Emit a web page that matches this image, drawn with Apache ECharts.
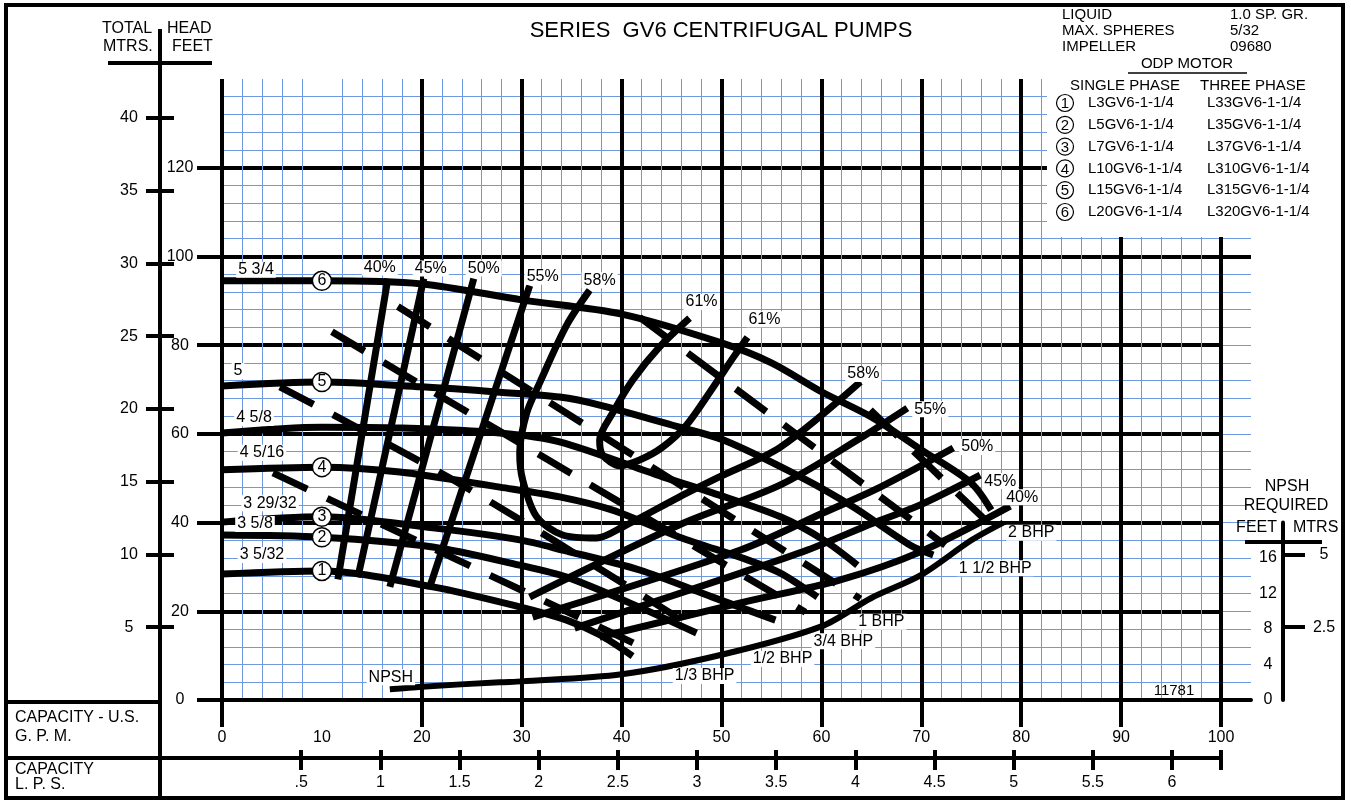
<!DOCTYPE html>
<html>
<head>
<meta charset="utf-8">
<title>Series GV6 Centrifugal Pumps</title>
<script src="https://cdn.jsdelivr.net/npm/echarts@6/dist/echarts.min.js"></script>
<style>
html, body { margin: 0; padding: 0; background: #fff; }
#chart { width: 1351px; height: 800px; }
</style>
</head>
<body>
<div id="chart"></div>
<script>
var chart = echarts.init(document.getElementById('chart'));

// head-capacity curves, [GPM, feet]
var head_1 = [[0, 28.4], [10, 29.1], [21.1, 25.5], [29.8, 21.0], [34.5, 18.0], [37.8, 14.7], [41.1, 9.9]];
var head_2 = [[0, 37.2], [10, 36.7], [21.1, 34.5], [29.8, 30.4], [34.5, 27.7], [40.8, 21.9], [47.5, 15.1]];
var head_3 = [[0, 40.1], [10, 41.3], [21.1, 38.8], [29.8, 36.1], [34.1, 33.8], [41.8, 29.3], [49.1, 23.2], [55.4, 18.0]];
var head_4 = [[0, 51.9], [10, 52.5], [17.8, 51.4], [27.8, 48.0], [33.8, 45.8], [39.1, 42.8], [45.8, 36.7], [52.6, 31.6], [55.9, 28.6], [59.6, 23.2]];
var head_45 = [[0, 60.2], [10, 61.5], [18, 61.3], [27.8, 60.2], [33.8, 58.2], [44.1, 50.3], [49.1, 46.7], [55.9, 41.3], [60.2, 36.1], [63.6, 30.4]];
var head_5 = [[0, 70.8], [10, 71.7], [20, 70.6], [27.8, 69.4], [33.8, 68.3], [37.8, 66.5], [45.8, 61.5], [50.2, 58.6], [57.9, 50.3], [63.2, 43.5], [68.9, 34.9], [71.2, 32.7]];
var head_6 = [[0, 94.5], [10, 94.5], [20, 93.8], [30, 90.2], [40, 87.0], [50, 80.5], [55, 76.0], [60, 69.5], [65, 63.8], [70, 56.4], [75, 48.9], [77, 42.8]];
var head_names = ['3 5/32', '3 5/8', '3 29/32', '4 5/16', '4 5/8', '5', '5 3/4'];
var head_numbers = ['1', '2', '3', '4', '', '5', '6'];

// efficiency lines, [GPM, feet]
var eff_40_left = [[16.6, 95.0], [11.6, 27.2]];
var eff_45_left = [[20.2, 95.0], [13.6, 27.7]];
var eff_50_left = [[25.2, 95.0], [16.8, 25.5]];
var eff_55_left = [[30.8, 93.4], [20.8, 25.5]];
var eff_58 = [[36.8, 92.4], [34.5, 84.5], [31.8, 71.5], [30.5, 64.7], [29.8, 55.7], [30.1, 49.6], [31.5, 41.3], [34.1, 37.2], [37.5, 36.5], [40.1, 39.0], [45.8, 45.8], [49.8, 50.3], [55.9, 57.0], [63.9, 71.7]];
var eff_61 = [[46.8, 86.1], [43.8, 79.6], [41.1, 72.1], [39.1, 64.7], [37.8, 58.6], [38.1, 55.2], [39.8, 52.8], [41.8, 54.1], [44.1, 57.0], [46.5, 62.0], [49.1, 70.3], [51.2, 77.3], [52.6, 81.8]];
var eff_55_right = [[30.8, 23.2], [45.8, 39.5], [55.9, 48.5], [63.6, 58.6], [68.6, 65.8]];
var eff_50_right = [[31.1, 18.7], [51.9, 33.8], [60.2, 42.2], [65.9, 48.0], [73.2, 56.8]];
var eff_45_right = [[35.3, 16.2], [51.9, 28.6], [58.6, 33.8], [65.2, 39.9], [69.9, 44.0], [75.9, 50.7]];
var eff_40_right = [[37.8, 14.2], [51.9, 21.9], [61.9, 27.1], [69.9, 33.4], [78.9, 43.7]];

// brake horsepower lines, [GPM, feet]
var bhp_third = [[5.1, 51.2], [41.8, 12.2]];
var bhp_half = [[5.8, 70.6], [24.0, 48.5], [46.8, 16.9]];
var bhp_3q = [[11.0, 83.0], [58.4, 19.8]];
var bhp_1 = [[17.6, 88.7], [63.9, 22.8]];
var bhp_1half = [[41.8, 86.3], [72.4, 34.9]];
var bhp_2 = [[64.9, 65.4], [76.9, 39.5]];
var bhp_names = ['1/3 BHP', '1/2 BHP', '3/4 BHP', '1 BHP', '1 1/2 BHP', '2 BHP'];

// NPSH required, [GPM, feet of NPSH]
var npsh = [[16.8, 1.2], [20, 1.5], [27.8, 2.0], [30, 2.1], [40, 2.9], [50, 5.1], [60, 8.3], [65, 11.5], [70, 14.1], [75, 18.0], [78.2, 20.0]];

// tick values
var gpm_ticks = [0, 20, 30, 40, 50, 60, 70, 80, 90, 100];
var feet_ticks = [0, 20, 40, 60, 80, 100, 120];
var mtrs_ticks = [5, 10, 15, 20, 25, 30, 35, 40];
var lps_ticks = [0.5, 1, 1.5, 2, 2.5, 3, 3.5, 4, 4.5, 5, 5.5, 6];
var npsh_feet_ticks = [0, 4, 8, 12, 16];
var npsh_mtrs_ticks = [2.5, 5];

// title block texts
var info_keys = ['LIQUID', 'MAX. SPHERES', 'IMPELLER'];
var info_vals = ['1.0 SP. GR.', '5/32', '09680'];
var single_phase = ['L3GV6-1-1/4', 'L5GV6-1-1/4', 'L7GV6-1-1/4', 'L10GV6-1-1/4', 'L15GV6-1-1/4', 'L20GV6-1-1/4'];
var three_phase = ['L33GV6-1-1/4', 'L35GV6-1-1/4', 'L37GV6-1-1/4', 'L310GV6-1-1/4', 'L315GV6-1-1/4', 'L320GV6-1-1/4'];

var HEAD_MAX = 140;
var FT_TO_M = 0.3048;
var GPM_PER_LPS = 15.85;
var FONT = '"Liberation Sans", Arial, sans-serif';
var BLUE = '#6e98e0';

function lbl(text, off, size) {
    return {
        show: true, position: 'inside', formatter: text, offset: off,
        color: '#000', fontSize: size || 16, fontFamily: FONT,
        backgroundColor: '#fff', padding: [0, 2]
    };
}
function tag(label) {
    return { symbol: 'circle', symbolSize: 1, itemStyle: { color: 'rgba(0,0,0,0)' }, label: label };
}
function ring(num) {
    return {
        symbol: 'circle', symbolSize: 19,
        itemStyle: { color: '#fff', borderColor: '#000', borderWidth: 1.5 },
        label: { show: true, position: 'inside', formatter: num, color: '#000', fontSize: 16, fontFamily: FONT }
    };
}
// attach per-point styles (labels, circles) to a point list
function dressed(points, tags) {
    return points.map(function (p, i) {
        var t = tags[i];
        if (i === points.length - 1 && tags.last) t = tags.last;
        return t ? Object.assign({ value: p }, t) : p;
    });
}
function curve(points, tags, style, z) {
    return {
        type: 'line', xAxisIndex: 0, yAxisIndex: 0,
        data: dressed(points, tags), smooth: 0.3,
        showSymbol: true, symbol: 'none',
        lineStyle: Object.assign({ color: '#000', width: 7 }, style || {}),
        z: z || 3, silent: true
    };
}

var series = [];

// efficiency
series.push(curve(eff_40_left, { 0: tag(lbl('40%', [-8, -11])) }));
series.push(curve(eff_45_left, { 0: tag(lbl('45%', [7, -10])) }));
series.push(curve(eff_50_left, { 0: tag(lbl('50%', [10, -10])) }));
series.push(curve(eff_55_left, { 0: tag(lbl('55%', [13, -9])) }));
series.push(curve(eff_58, { 0: tag(lbl('58%', [10, -10])), last: tag(lbl('58%', [3, -8])) }));
series.push(curve(eff_61, { 0: tag(lbl('61%', [12, -16])), last: tag(lbl('61%', [17, -18])) }));
series.push(curve(eff_55_right, { last: tag(lbl('55%', [23, 1])) }));
series.push(curve(eff_50_right, { last: tag(lbl('50%', [24, -1])) }));
series.push(curve(eff_45_right, { last: tag(lbl('45%', [20, 6])) }));
series.push(curve(eff_40_right, { last: tag(lbl('40%', [12, -9])) }));

// BHP, dashed
var bhp_lines = [bhp_third, bhp_half, bhp_3q, bhp_1, bhp_1half, bhp_2];
var bhp_offsets = [[65, 30], [93, 34], [38, 29], [21, 23], [50, 23], [41, 8]];
bhp_lines.forEach(function (pts, k) {
    series.push(curve(pts, { last: tag(lbl(bhp_names[k], bhp_offsets[k])) }, { type: [38, 22] }));
});

// NPSH (own scale: 2x the head scale)
var npsh_series = curve(npsh, { 0: tag(lbl('NPSH', [1, -12])) }, { width: 6 });
npsh_series.yAxisIndex = 3;
series.push(npsh_series);

// head curves
var head_curves = [head_1, head_2, head_3, head_4, head_45, head_5, head_6];
var head_offsets = [[40, -19], [33, -11], [48, -19], [40, -17], [32, -15], [16, -15], [34, -11]];
head_curves.forEach(function (pts, k) {
    var tags = { 0: tag(lbl(head_names[k], head_offsets[k], 16)) };
    if (head_numbers[k]) {
        var i10 = pts.findIndex(function (p) { return p[0] === 10; });
        tags[i10] = ring(head_numbers[k]);
    }
    series.push(curve(pts, tags, null, 5));
});

// 100 ft line continues past 100 GPM
series.push({
    type: 'line', xAxisIndex: 2, yAxisIndex: 4, data: [], silent: true,
    markLine: {
        silent: true, symbol: ['none', 'none'], label: { show: false },
        lineStyle: { color: '#000', width: 4, type: 'solid' },
        data: [{ yAxis: 100 }]
    }
});

var axisFont = { color: '#000', fontSize: 16, fontFamily: FONT };
var black4 = { color: '#000', width: 4 };

function line(x1, y1, x2, y2, w) {
    return { type: 'line', z: 20, shape: { x1: x1, y1: y1, x2: x2, y2: y2 }, style: { stroke: '#000', lineWidth: w || 4 } };
}
function text(x, y, s, align, size) {
    return {
        type: 'text', x: x, y: y, z: 30,
        style: { text: s, fill: '#000', font: (size || 16) + 'px ' + FONT, align: align || 'left', verticalAlign: 'middle' }
    };
}

var graphics = [
    // clear the corner used by the title block
    { type: 'rect', z: 6, shape: { x: 1047, y: 70, width: 216, height: 167 }, style: { fill: '#fff' } },
    { type: 'rect', z: 20, shape: { x: 6, y: 5, width: 1337, height: 793 }, style: { fill: 'none', stroke: '#000', lineWidth: 4 } },
    line(160, 29, 160, 798),
    line(108, 63, 212, 63),
    line(6, 702, 160, 702),
    line(6, 758, 1221, 758),
    line(1245, 542, 1322, 542),
    line(1128, 73, 1247, 73, 1.5),
    text(721, 31, 'SERIES  GV6 CENTRIFUGAL PUMPS', 'center', 22),
    text(102, 29, 'TOTAL'), text(167, 29, 'HEAD'),
    text(103, 47, 'MTRS.'), text(172, 47, 'FEET'),
    text(1187, 64, 'ODP MOTOR', 'center', 15),
    text(1070, 86, 'SINGLE PHASE', 'left', 15),
    text(1200, 86, 'THREE PHASE', 'left', 15),
    text(15, 718, 'CAPACITY - U.S.'), text(15, 737, 'G. P. M.'),
    text(15, 770, 'CAPACITY'), text(15, 785, 'L. P. S.'),
    text(1287, 487, 'NPSH', 'center'),
    text(1286, 506, 'REQUIRED', 'center'),
    text(1277, 528, 'FEET', 'right'),
    text(1293, 528, 'MTRS', 'left'),
    text(1174, 691, '11781', 'center', 15)
];
info_keys.forEach(function (k, i) {
    graphics.push(text(1062, 15 + 16 * i, k, 'left', 15));
    graphics.push(text(1230, 15 + 16 * i, info_vals[i], 'left', 15));
});
single_phase.forEach(function (s, i) {
    var y = 103 + 21.8 * i;
    graphics.push({ type: 'circle', z: 30, shape: { cx: 1065, cy: y, r: 8.5 }, style: { fill: '#fff', stroke: '#000', lineWidth: 1.2 } });
    graphics.push(text(1065, y + 1, String(i + 1), 'center', 15));
    graphics.push(text(1088, y, s, 'left', 15));
    graphics.push(text(1207, y, three_phase[i], 'left', 15));
});

var option = {
    animation: false,
    backgroundColor: '#fff',
    textStyle: { fontFamily: FONT },
    grid: [
        { left: 222, top: 79, width: 999, height: 621 },
        { left: 1221, top: 79, width: 30, height: 621 },
        { left: 1283, top: 700 - 20 * 621 / 70, width: 1, height: 20 * 621 / 70 }
    ],
    xAxis: [
        {   // GPM
            gridIndex: 0, type: 'value', min: 0, max: 100, interval: 10,
            axisLine: { show: true, onZero: false, lineStyle: black4 },
            axisTick: { show: true, length: 27, lineStyle: black4, customValues: gpm_ticks },
            axisLabel: Object.assign({ margin: 30 }, axisFont),
            splitLine: { show: true, lineStyle: black4 },
            minorTick: { show: false, splitNumber: 5 },
            minorSplitLine: { show: true, lineStyle: { color: BLUE, width: 1 } }
        },
        {   // LPS
            gridIndex: 0, type: 'value', position: 'bottom', offset: 50,
            min: 0, max: 100 / GPM_PER_LPS,
            axisLine: { show: false, onZero: false },
            axisTick: { show: true, length: 20, lineStyle: black4, customValues: lps_ticks.concat([100 / GPM_PER_LPS]) },
            axisLabel: Object.assign({
                margin: 25, customValues: lps_ticks,
                formatter: function (v) { return v === 0.5 ? '.5' : String(v); }
            }, axisFont),
            splitLine: { show: false }
        },
        {
            gridIndex: 1, type: 'value', min: 100, max: 103,
            axisLine: { show: true, onZero: false, lineStyle: black4 },
            axisTick: { show: false }, axisLabel: { show: false }, splitLine: { show: false }
        },
        { gridIndex: 2, type: 'value', min: 0, max: 1, show: false }
    ],
    yAxis: [
        {   // feet
            gridIndex: 0, type: 'value', min: 0, max: HEAD_MAX, interval: 20,
            axisLine: { show: false, onZero: false },
            axisTick: { show: true, length: 25, lineStyle: black4, customValues: feet_ticks },
            axisLabel: Object.assign({ margin: 42, align: 'center', padding: [0, 0, 6, 0], customValues: feet_ticks }, axisFont),
            splitLine: { show: true, lineStyle: black4 },
            minorTick: { show: false, splitNumber: 5 },
            minorSplitLine: { show: true, lineStyle: { color: BLUE, width: 1 } }
        },
        {   // metres, outer ticks + labels
            gridIndex: 0, type: 'value', position: 'left', offset: 62,
            min: 0, max: HEAD_MAX * FT_TO_M,
            axisLine: { show: false, onZero: false },
            axisTick: { show: true, length: 14, lineStyle: black4, customValues: mtrs_ticks },
            axisLabel: Object.assign({ margin: 31, align: 'center', customValues: mtrs_ticks }, axisFont),
            splitLine: { show: false }
        },
        {   // metres, inner ticks
            gridIndex: 0, type: 'value', position: 'left', offset: 62,
            min: 0, max: HEAD_MAX * FT_TO_M,
            axisLine: { show: false, onZero: false },
            axisTick: { show: true, inside: true, length: 14, lineStyle: black4, customValues: mtrs_ticks },
            axisLabel: { show: false },
            splitLine: { show: false }
        },
        {   // NPSH scale for the curve
            gridIndex: 0, type: 'value', min: 0, max: HEAD_MAX / 2, show: false
        },
        {
            gridIndex: 1, type: 'value', min: 0, max: HEAD_MAX, interval: 4,
            axisLine: { show: false, onZero: false }, axisTick: { show: false }, axisLabel: { show: false },
            splitLine: { show: true, lineStyle: { color: BLUE, width: 1 } }
        },
        {   // NPSH feet
            gridIndex: 2, type: 'value', position: 'left', min: 0, max: 20, interval: 4,
            axisLine: { show: true, onZero: false, lineStyle: black4 },
            axisTick: { show: false },
            axisLabel: Object.assign({ margin: 15, align: 'center', customValues: npsh_feet_ticks }, axisFont),
            splitLine: { show: false }
        },
        {   // NPSH metres
            gridIndex: 2, type: 'value', position: 'right', min: 0, max: 20 * FT_TO_M,
            axisLine: { show: false, onZero: false },
            axisTick: { show: true, length: 21, lineStyle: black4, customValues: npsh_mtrs_ticks },
            axisLabel: Object.assign({ margin: 40, align: 'center', customValues: npsh_mtrs_ticks }, axisFont),
            splitLine: { show: false }
        }
    ],
    series: series,
    graphic: { elements: graphics }
};

chart.setOption(option);
</script>
</body>
</html>
